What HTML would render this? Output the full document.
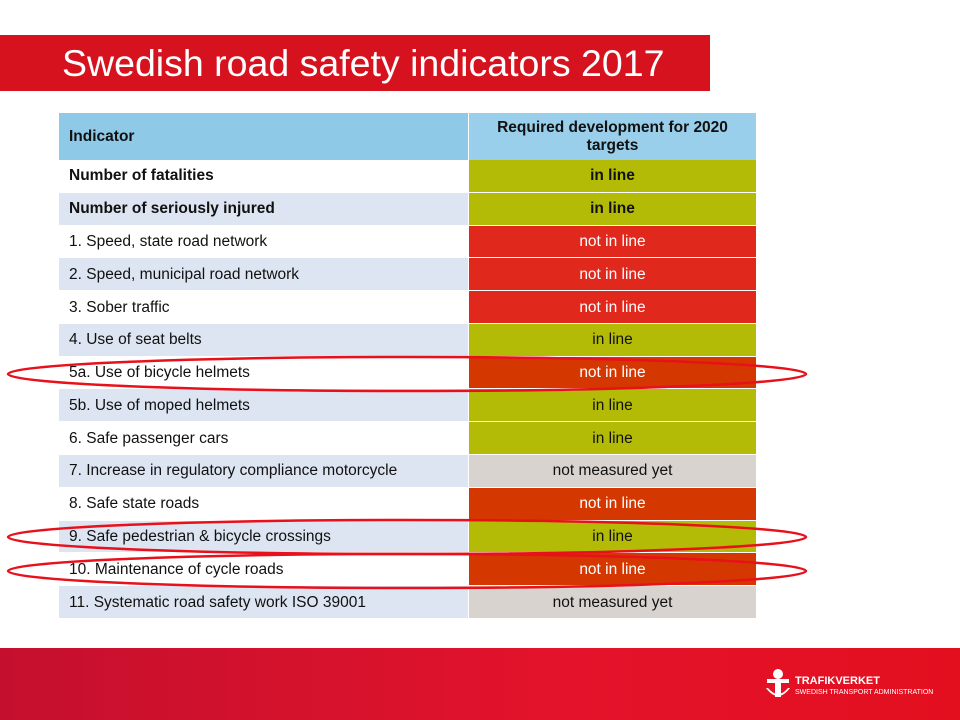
<!DOCTYPE html>
<html><head><style>
body{margin:0;width:960px;height:720px;position:relative;background:#fff;font-family:"Liberation Sans",Arial,sans-serif;overflow:hidden}
.title{position:absolute;left:0;top:35px;width:710px;height:56px;background:#d6121f;color:#fff;font-size:37.5px;line-height:56px;box-sizing:border-box;padding-left:62px}
table{position:absolute;left:59px;top:113px;border-collapse:collapse;width:697px;height:506px}
td{padding:0 0 0 10px;font-size:15.5px;color:#111;box-shadow:inset 0 -1px 0 #fff}
td.s{text-align:center;padding:0;width:287px;border-left:1px solid #fff}
tr:nth-child(odd) td:first-child{background:#dce5f1}
tr:nth-child(even) td:first-child{background:#fff}
tr.h{height:47px}
th{background:#8fc9e8;font-size:15.5px;text-align:left;padding-left:10px;color:#111}
th.s{text-align:center;padding:0;background:#99cfea;border-left:1px solid #fff}
.g{background:#b3bb06}.r{background:#e0281d}.o{background:#d43800}.n{background:#d8d3cf}
b{font-weight:bold}
.foot{position:absolute;left:0;top:648px;width:960px;height:72px;background:linear-gradient(90deg,#c4102e,#e4132b 60%,#e30f1f)}
.logo{position:absolute;left:795px;top:676px;color:#fff;font-size:11px;font-weight:bold;line-height:10px}
.logo span{font-size:7px;font-weight:normal}
</style></head><body>
<div class="title">Swedish road safety indicators 2017</div>
<table>
<tr class="h"><th>Indicator</th><th class="s">Required development for 2020<br>targets</th></tr>
<tr><td><b>Number of fatalities</b></td><td class="s g"><b>in line</b></td></tr>
<tr><td><b>Number of seriously injured</b></td><td class="s g"><b>in line</b></td></tr>
<tr><td>1. Speed, state road network</td><td class="s r" style="color:#fff">not in line</td></tr>
<tr><td>2. Speed, municipal road network</td><td class="s r" style="color:#fff">not in line</td></tr>
<tr><td>3. Sober traffic</td><td class="s r" style="color:#fff">not in line</td></tr>
<tr><td>4. Use of seat belts</td><td class="s g">in line</td></tr>
<tr><td>5a. Use of bicycle helmets</td><td class="s o" style="color:#fff">not in line</td></tr>
<tr><td>5b. Use of moped helmets</td><td class="s g">in line</td></tr>
<tr><td>6. Safe passenger cars</td><td class="s g">in line</td></tr>
<tr><td>7. Increase in regulatory compliance motorcycle</td><td class="s n">not measured yet</td></tr>
<tr><td>8. Safe state roads</td><td class="s o" style="color:#fff">not in line</td></tr>
<tr><td>9. Safe pedestrian &amp; bicycle crossings</td><td class="s g">in line</td></tr>
<tr><td>10. Maintenance of cycle roads</td><td class="s o" style="color:#fff">not in line</td></tr>
<tr><td>11. Systematic road safety work ISO 39001</td><td class="s n">not measured yet</td></tr>
</table>
<svg style="position:absolute;left:0;top:0" width="960" height="720">
<g fill="none" stroke="#e8101a" stroke-width="2.5">
<ellipse cx="407" cy="374" rx="399" ry="17"/>
<ellipse cx="407" cy="537" rx="399" ry="17"/>
<ellipse cx="407" cy="571" rx="399" ry="17"/>
</g></svg>
<div class="foot"></div>
<svg style="position:absolute;left:764px;top:668px" width="28" height="32"><g fill="#fff"><circle cx="14" cy="6" r="5"/><rect x="3" y="11" width="22" height="4"/><rect x="11" y="15" width="6" height="14"/><path d="M2 20 Q14 36 26 20 L24 20 Q14 32 4 20Z"/></g></svg>
<div class="logo">TRAFIKVERKET<br><span>SWEDISH TRANSPORT ADMINISTRATION</span></div>
</body></html>
